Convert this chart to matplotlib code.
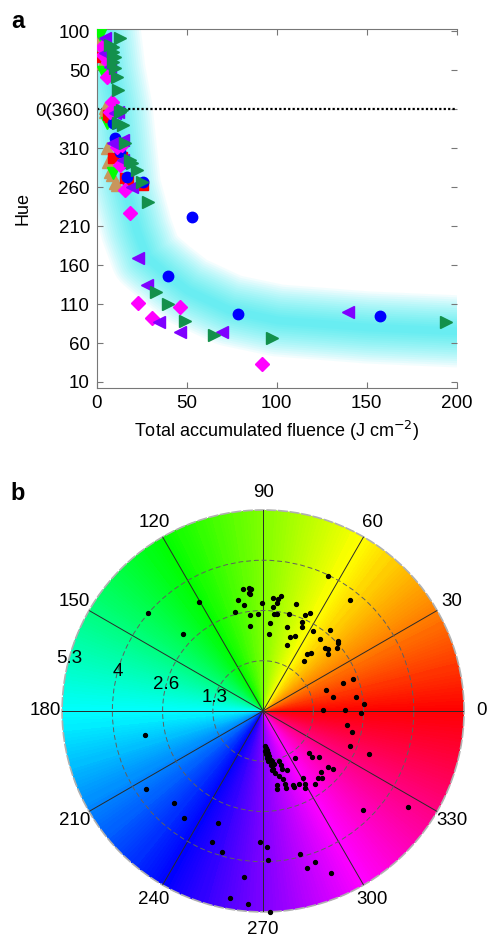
import numpy as np
import matplotlib
matplotlib.use("Agg")
import matplotlib.pyplot as plt
from matplotlib.colors import hsv_to_rgb, ListedColormap

plt.rcParams['font.family'] = ['Liberation Sans', 'DejaVu Sans']

# ---- panel a: hue vs accumulated fluence (hue unwrapped: 100 .. 0(360) .. 10 -> 100 .. -350)
blue_f = [8.9, 10.0, 12.8, 14.4, 16.7, 25.6, 52.8, 39.4, 78.3, 157.2]
blue_h = [-17.8, -37.1, -55.1, -69.2, -87.3, -93.7, -138.7, -213.4, -262.3, -264.9]

red_f = [2.8, 6.1, 7.2, 8.9, 13.9, 15.6, 17.2, 25.6]
red_h = [67.2, -7.5, -10.0, -62.8, -61.5, -88.6, -91.1, -97.6]

lime_f = [1.7, 3.3, 5.6, 8.9]
lime_h = [95.5, 47.9, -17.8, -82.1]

tan_f = [0.6, 3.3, 4.4, 4.4, 5.6, 6.1, 7.2, 8.3, 10.0, 11.1]
tan_h = [85.2, 59.5, 1.5, -3.6, -49.9, -68.0, -80.8, -84.7, -95.0, -97.6]

mag_f = [2.8, 3.3, 6.1, 5.6, 8.3, 7.2, 13.9, 11.1, 12.8, 15.6, 18.3, 22.8, 30.6, 46.1, 91.7]
mag_h = [80.1, 69.8, 60.7, 41.4, 9.3, -3.6, -46.1, -48.6, -71.8, -104.0, -133.6, -248.1, -267.5, -253.3, -326.7]

pur_f = [4.4, 4.4, 7.2, 10.0, 11.7, 8.9, 14.4, 14.4, 19.4, 22.8, 27.8, 34.4, 46.1, 69.4, 139.4]
pur_h = [91.6, 72.3, 54.3, -4.9, -3.6, -43.5, -39.6, -65.4, -100.1, -190.2, -225.0, -272.6, -285.5, -285.5, -259.8]

dg_f = [12.8, 7.2, 8.9, 8.9, 10.0, 8.9, 10.0, 11.1, 11.7, 13.9, 12.8, 11.7, 14.4, 15.6, 18.3,
        19.4, 22.2, 25.0, 28.3, 32.8, 39.4, 48.9, 65.0, 97.2, 193.9]
dg_h = [91.6, 82.6, 80.1, 73.6, 67.2, 60.7, 53.0, 41.4, 24.7, -1.0, -3.6, -17.8, -20.3, -43.5, -65.4,
        -69.2, -78.2, -93.7, -119.4, -234.0, -249.5, -271.3, -289.4, -293.2, -272.6]

# centre of the shaded trend band
band_f = [3.0, 4.4, 7.0, 11.0, 15.6, 22.2, 27.8, 38.9, 50.6, 73.9, 100.6, 150.6, 200.0]
band_h = [140, 100, 50, 0, -99, -155, -190, -212, -233, -258, -271, -280, -285]

hue_ticks = [100, 50, 0, -50, -100, -150, -200, -250, -300, -350]
hue_labels = ['100', '50', '0(360)', '310', '260', '210', '160', '110', '60', '10']

# ---- panel b: polar hue wheel, points as (a, b) components
pa = [1.72, 2.30, 0.26, 0.40, 0.47, -0.03, 0.87, 0.37, 0.26, -0.13, 0.29, 0.37, 0.69, 1.11, 1.24,
      0.18, 1.03, 1.03, 0.63, 1.32, 1.77, 0.16, 0.71, 0.84, 1.50, 1.98, 1.98, 1.95, 0.63, 1.64,
      1.72, 1.72, 1.16, 1.27, 1.08, 2.11, 2.37, 1.66, 1.85, 2.45, 2.66, 1.58, 2.16, 2.59, -0.53,
      -0.37, -0.32, -0.37, -0.34, -0.66, -0.50, -0.74, -0.34, -0.34, -1.69, -3.03, -2.11,
      2.22, 2.35, 2.30, 2.80, 1.21, 1.29, 1.48, 0.84, 1.72, 1.85, 1.53, 1.45, 1.56, 1.06, 1.37,
      1.11, 1.11, 0.95, 0.79, 0.82, 0.58, 0.61, 0.37, 0.37, 0.53, 0.42, 0.32, 0.24, 0.63, 0.50,
      0.47, 0.42, 0.05, 0.08, 0.11, 0.05, 0.13, 0.08, 0.16, 0.11, 0.21, 0.24, 0.13, 0.29, 0.21,
      0.26, 2.64, 3.83, -0.08, 0.11, 0.13, 0.98, 1.37, 1.16, 1.79, 0.18, -3.11, -3.09, -2.35,
      -2.08, -1.19, -1.35, -1.08, -0.50, -0.87, -0.40]
pb = [3.56, 2.93, 2.98, 2.96, 3.03, 2.85, 2.82, 2.85, 2.74, 2.56, 2.56, 2.56, 2.56, 2.53, 2.59,
      2.32, 2.35, 2.22, 2.22, 2.11, 2.14, 2.03, 1.95, 1.98, 1.90, 1.85, 1.79, 1.66, 1.74, 1.66,
      1.64, 1.50, 1.50, 1.53, 1.32, 0.74, 0.84, 0.55, 0.37, 0.37, 0.18, 0.03, 0.03, -0.05, 3.22,
      3.25, 3.22, 3.11, 3.09, 2.93, 2.80, 2.61, 2.53, 2.24, 2.88, 2.59, 2.03,
      -0.37, -0.55, -0.92, -1.13, -1.11, -1.21, -1.21, -1.24, -1.48, -1.53, -1.61, -1.77, -1.77,
      -1.77, -1.93, -1.93, -2.03, -1.93, -1.95, -2.01, -1.93, -2.03, -1.95, -2.06, -1.79, -1.72,
      -1.64, -1.56, -1.56, -1.53, -1.42, -1.32, -0.92, -0.98, -1.03, -1.06, -1.11, -1.13, -1.19,
      -1.24, -1.29, -1.32, -1.32, -1.40, -1.42, -1.53, -2.61, -2.53, -3.46, -3.59, -3.93, -3.77,
      -3.98, -4.14, -4.27, -5.30, -0.63, -2.06, -2.43, -2.82, -2.96, -3.46, -3.72, -4.38, -4.93,
      -5.09]

rmax = 5.3
ring_labels = ['1.3', '2.6', '4', '5.3']

fig = plt.figure(figsize=(4.89, 9.40), dpi=100)

# ---------------- panel a
ax = fig.add_axes([0.198, 0.587, 0.736, 0.382])
for k in range(16):
    ax.plot(band_f, band_h, color='#00e8f2', lw=52 - k * 3.1, alpha=0.05,
            solid_joinstyle='round', solid_capstyle='round', zorder=1)
ax.axhline(0, color='k', lw=1.6, ls=(0, (1, 1)), zorder=2)

ms = 8.5
ax.plot(tan_f, tan_h, '^', ms=ms, color='#c8965c', mec='#c8965c', ls='none', zorder=3)
ax.plot(lime_f, lime_h, 'v', ms=ms, color='#00ff00', mec='#00ff00', ls='none', zorder=3)
ax.plot(red_f, red_h, 's', ms=7, color='#ff0000', mec='#ff0000', ls='none', zorder=3)
ax.plot(blue_f, blue_h, 'o', ms=7.5, color='#0000ff', mec='#0000ff', ls='none', zorder=3)
ax.plot(mag_f, mag_h, 'D', ms=7, color='#ff00ff', mec='#ff00ff', ls='none', zorder=3)
ax.plot(pur_f, pur_h, '<', ms=ms, color='#8000ff', mec='#8000ff', ls='none', zorder=3)
ax.plot(dg_f, dg_h, '>', ms=ms, color='#13904c', mec='#13904c', ls='none', zorder=3)

ax.set_xlim(0, 200)
ax.set_ylim(-358, 103)
ax.set_xticks([0, 50, 100, 150, 200])
ax.set_yticks(hue_ticks)
ax.set_yticklabels(hue_labels)
ax.tick_params(direction='in', length=4, top=True, right=True, color='#777777',
               labelsize=13.5, pad=5)
for s in ['left', 'bottom', 'top']:
    ax.spines[s].set_color('#777777')
ax.spines['right'].set_visible(False)
ax.set_xlabel('Total accumulated fluence (J cm$^{-2}$)', fontsize=13, labelpad=5)
ax.set_ylabel('Hue', fontsize=13, labelpad=3)
fig.text(0.022, 0.977, 'a', fontsize=17, fontweight='bold', va='center')
fig.text(0.022, 0.475, 'b', fontsize=17, fontweight='bold', va='center')

# ---------------- panel b
axp = fig.add_axes([0.127, 0.0298, 0.822, 0.4277], projection='polar')
theta_edges = np.deg2rad(np.arange(0, 361, 1))
hues = np.arange(360) / 360.0
cmap = ListedColormap(hsv_to_rgb(np.column_stack([hues, np.ones(360), np.ones(360)])))
axp.pcolormesh(theta_edges, np.array([0, rmax]), hues[None, :], cmap=cmap,
               vmin=0, vmax=1, shading='flat', zorder=0)

theta_pts = np.arctan2(pb, pa)
r_pts = np.hypot(pa, pb)
axp.plot(theta_pts, r_pts, 'o', ms=2.8, color='k', ls='none', zorder=4, clip_on=False)

axp.set_rlim(0, rmax)
rings = rmax * np.arange(1, 5) / 4
axp.set_thetagrids(np.arange(0, 360, 30), labels=[''] * 12)
axp.set_rgrids(rings[:3], labels=[''] * 3)
axp.xaxis.grid(True, color='#2a2a2a', lw=0.7, ls='-')
axp.yaxis.grid(True, color='#606060', lw=0.7, ls=(0, (5, 3)))
axp.set_axisbelow(False)
axp.spines['polar'].set_color('#b0b0b0')
axp.spines['polar'].set_linestyle((0, (5, 2)))
axp.spines['polar'].set_linewidth(1.2)

for ang in range(0, 360, 30):
    axp.text(np.deg2rad(ang), rmax * 1.085, str(ang), ha='center', va='center',
             fontsize=13.5, clip_on=False)
for rv, lab in zip(rings, ring_labels):
    axp.text(np.deg2rad(165), rv, lab, ha='center', va='center', fontsize=13.5, zorder=5)

fig.savefig('out.png', dpi=100)
